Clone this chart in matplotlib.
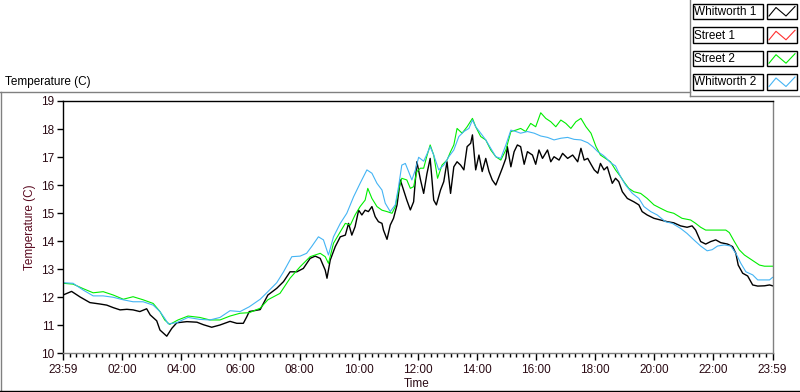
#!/usr/bin/env python3

import matplotlib
matplotlib.use("Agg")
import matplotlib.pyplot as plt
from matplotlib.lines import Line2D
from matplotlib.patches import Rectangle
import numpy as np

W, H = 800, 392

# hours since 23:59 of previous day, temperature in C
whitworth1_t = [0.0, 0.29, 0.58, 0.91, 1.25, 1.48, 1.7, 1.93, 2.16, 2.37, 2.6, 2.83, 2.95,
                3.17, 3.28, 3.51, 3.68, 3.85, 4.19, 4.53, 4.75, 5.03, 5.31, 5.65, 5.88, 6.1,
                6.22, 6.3, 6.67, 6.93, 7.23, 7.46, 7.68, 7.91, 8.13, 8.36, 8.53, 8.7, 8.87,
                8.93, 9.04, 9.21, 9.38, 9.55, 9.66, 9.77, 9.88, 10.0, 10.11, 10.22, 10.33,
                10.45, 10.56, 10.67, 10.79, 10.84, 10.96, 11.07, 11.18, 11.3, 11.41, 11.52,
                11.63, 11.75, 11.86, 11.97, 12.09, 12.2, 12.31, 12.42, 12.54, 12.63, 12.77,
                12.88, 12.99, 13.11, 13.22, 13.33, 13.45, 13.56, 13.67, 13.79, 13.85, 13.96,
                14.07, 14.18, 14.3, 14.41, 14.52, 14.64, 14.75, 14.86, 14.98, 15.03, 15.15,
                15.26, 15.37, 15.48, 15.6, 15.71, 15.88, 15.99, 16.1, 16.22, 16.39, 16.5,
                16.61, 16.78, 16.9, 17.07, 17.24, 17.41, 17.52, 17.63, 17.75, 17.86, 17.97,
                18.09, 18.18, 18.3, 18.41, 18.58, 18.69, 18.8, 18.92, 19.09, 19.31, 19.48,
                19.59, 19.76, 19.99, 20.21, 20.44, 20.66, 20.89, 21.11, 21.28, 21.4, 21.57,
                21.74, 21.91, 22.08, 22.25, 22.48, 22.65, 22.76, 22.84, 22.99, 23.16, 23.33,
                23.5, 23.73, 23.9, 24.0]
whitworth1_v = [12.07, 12.2, 12.0, 11.8, 11.75, 11.71, 11.62, 11.54, 11.56, 11.54, 11.48, 11.58, 11.36,
                11.15, 10.82, 10.6, 10.88, 11.08, 11.12, 11.1, 11.01, 10.92, 11.0, 11.13, 11.06, 11.06,
                11.3, 11.48, 11.55, 12.07, 12.31, 12.55, 12.9, 12.9, 13.02, 13.38, 13.46, 13.38, 12.96,
                12.67, 13.32, 13.8, 14.15, 14.21, 14.63, 14.21, 14.51, 15.1, 14.93, 15.1, 15.05,
                15.23, 14.87, 14.69, 14.63, 14.39, 14.06, 14.57, 14.81, 15.29, 16.18, 15.82,
                15.46, 15.11, 15.4, 16.83, 16.2, 15.7, 16.4, 16.95, 15.46, 15.29, 15.82,
                16.12, 16.83, 15.7, 16.65, 16.83, 16.71, 16.54, 17.37, 17.49, 17.79, 16.54,
                17.07, 16.48, 16.95, 16.48, 16.18, 16.0, 16.3, 16.6, 16.95, 17.37, 16.65,
                17.19, 17.43, 17.37, 16.74, 17.19, 17.07, 16.74, 17.25, 16.95, 17.25, 16.83,
                17.01, 16.89, 17.13, 16.95, 17.07, 16.83, 17.31, 16.89, 16.95, 16.74, 16.54,
                16.42, 16.77, 16.54, 16.65, 16.06, 16.24, 16.12, 15.76, 15.52, 15.4, 15.29,
                15.05, 14.93, 14.81, 14.75, 14.69, 14.65, 14.54, 14.49, 14.54, 14.39, 13.98,
                13.89, 13.98, 14.04, 13.94, 13.89, 13.8, 13.56, 13.14, 12.85, 12.75, 12.43,
                12.39, 12.4, 12.43, 12.4]

street1_t = []
street1_v = []

street2_t = [0.0, 0.34, 0.68, 1.02, 1.36, 1.7, 2.04, 2.37, 2.71, 3.05, 3.28, 3.44, 3.61, 3.89,
             4.23, 4.63, 4.97, 5.31, 5.65, 5.99, 6.3, 6.67, 6.93, 7.34, 7.68, 8.02, 8.36, 8.7,
             8.87, 8.98, 9.15, 9.38, 9.55, 9.72, 9.88, 10.05, 10.22, 10.31, 10.45, 10.62,
             10.79, 10.96, 11.13, 11.24, 11.35, 11.46, 11.63, 11.75, 11.86, 11.97, 12.09,
             12.2, 12.3, 12.42, 12.54, 12.67, 12.82, 12.99, 13.11, 13.22, 13.33, 13.5, 13.67,
             13.85, 13.96, 14.13, 14.3, 14.47, 14.64, 14.81, 14.98, 15.15, 15.32, 15.48,
             15.65, 15.82, 15.99, 16.16, 16.33, 16.5, 16.67, 16.84, 17.01, 17.18, 17.35,
             17.52, 17.69, 17.86, 18.03, 18.18, 18.35, 18.52, 18.69, 18.86, 18.97, 19.14,
             19.31, 19.54, 19.76, 19.99, 20.21, 20.44, 20.66, 20.94, 21.23, 21.4, 21.57,
             21.74, 22.02, 22.42, 22.54, 22.71, 22.88, 23.05, 23.22, 23.39, 23.56, 23.73, 24.0]
street2_v = [12.49, 12.46, 12.3, 12.15, 12.19, 12.07, 11.92, 12.01, 11.9, 11.77, 11.48, 11.18, 11.02, 11.18,
             11.32, 11.27, 11.18, 11.18, 11.32, 11.42, 11.44, 11.6, 11.9, 12.13, 12.67, 13.08, 13.44, 13.56,
             13.44, 13.2, 13.92, 14.33, 14.63, 14.57, 14.93, 15.23, 15.46, 15.88, 15.52, 15.23,
             15.1, 15.05, 14.99, 15.23, 15.82, 16.24, 16.18, 15.88, 15.94, 16.48, 16.6,
             16.6, 17.0, 17.43, 17.07, 16.24, 16.71, 16.89, 17.19, 17.43, 18.02, 17.85, 18.08,
             18.38, 18.08, 17.73, 17.61, 17.25, 17.01, 16.89, 17.25, 17.91, 17.96, 18.02,
             17.91, 18.2, 18.08, 18.58, 18.38, 18.26, 18.08, 18.32, 18.2, 18.02, 18.26,
             18.38, 18.08, 17.85, 17.37, 17.07, 16.95, 16.83, 16.54, 16.3, 16.12, 15.88,
             15.76, 15.7, 15.52, 15.29, 15.17, 15.05, 14.99, 14.81, 14.75, 14.63, 14.49,
             14.39, 14.39, 14.39, 14.3, 13.98, 13.68, 13.5, 13.38, 13.26, 13.14, 13.1, 13.1]

whitworth2_t = [0.0, 0.34, 0.68, 1.02, 1.36, 1.7, 2.04, 2.37, 2.71, 3.05, 3.28, 3.44, 3.56, 3.84,
                4.23, 4.63, 4.97, 5.31, 5.65, 5.99, 6.3, 6.67, 6.93, 7.23, 7.46, 7.74, 8.02, 8.24,
                8.41, 8.64, 8.81, 8.98, 9.15, 9.38, 9.6, 9.83, 10.05, 10.28, 10.45, 10.62, 10.79,
                10.9, 11.07, 11.24, 11.35, 11.46, 11.58, 11.69, 11.8, 11.92, 12.03, 12.2, 12.31,
                12.42, 12.54, 12.71, 12.88, 13.05, 13.22, 13.39, 13.56, 13.73, 13.85, 13.96,
                14.13, 14.3, 14.47, 14.64, 14.81, 14.98, 15.15, 15.32, 15.48, 15.71, 15.94,
                16.16, 16.39, 16.61, 16.84, 17.07, 17.29, 17.52, 17.75, 17.92, 18.09, 18.26,
                18.35, 18.52, 18.69, 18.86, 19.03, 19.26, 19.48, 19.65, 19.88, 20.1, 20.38,
                20.61, 20.89, 21.11, 21.34, 21.57, 21.79, 21.96, 22.14, 22.37, 22.59, 22.76,
                22.93, 23.1, 23.33, 23.5, 23.73, 23.9, 24.0]
whitworth2_v = [12.51, 12.49, 12.25, 12.04, 12.04, 11.99, 11.9, 11.83, 11.83, 11.71, 11.48, 11.24, 11.04, 11.08,
                11.27, 11.2, 11.18, 11.27, 11.51, 11.48, 11.65, 11.92, 12.19, 12.51, 12.9, 13.44, 13.46, 13.56,
                13.8, 14.15, 14.04, 13.5, 14.15, 14.63, 14.99, 15.58, 16.06, 16.54, 16.42, 16.06, 15.82,
                15.35, 15.05, 15.29, 15.94, 16.71, 16.77, 16.48, 16.18, 16.54, 16.99, 16.85, 17.1,
                17.37, 17.07, 16.54, 16.71, 17.01, 17.25, 17.73, 17.91, 18.02, 18.32, 18.08,
                17.85, 17.61, 17.31, 17.01, 16.95, 17.43, 17.96, 17.91, 17.85, 17.91, 17.85,
                17.75, 17.7, 17.61, 17.67, 17.7, 17.63, 17.61, 17.51, 17.37, 17.19, 17.07,
                16.99, 16.8, 16.68, 16.3, 16.0, 15.7, 15.52, 15.23, 15.05, 14.93, 14.69,
                14.63, 14.45, 14.27, 14.04, 13.82, 13.65, 13.69, 13.82, 13.86, 13.82, 13.56,
                13.2, 12.9, 12.79, 12.61, 12.61, 12.61, 12.7]

names = ["Whitworth 1", "Street 1", "Street 2", "Whitworth 2"]
colors = ["#000000", "#ff3030", "#00ee00", "#44b4f4"]
widths = [1.0, 0.8, 0.8, 0.8]
series = [(whitworth1_t, whitworth1_v), (street1_t, street1_v),
          (street2_t, street2_v), (whitworth2_t, whitworth2_v)]

tick_hours = list(range(0, 25, 2))
tick_labels = ["23:59", "02:00", "04:00", "06:00", "08:00", "10:00", "12:00",
               "14:00", "16:00", "18:00", "20:00", "22:00", "23:59"]
y_ticks = list(range(10, 20))

FONT = "Liberation Sans"
TXT = "#2a0a14"


def fx(px):
    return px / W


def fy(py):
    return 1 - py / H


fig = plt.figure(figsize=(W / 100, H / 100), dpi=100)
fig.patch.set_facecolor("white")

ax = fig.add_axes([fx(63), fy(353), (772.5 - 63) / W, (353 - 101) / H])
for (t, v), c, lw in zip(series, colors, widths):
    ax.plot(t, v, color=c, lw=lw)

ax.set_xlim(0, 24)
ax.set_ylim(10, 19)
ax.set_xticks(tick_hours)
ax.set_xticklabels(tick_labels)
minor = []
for a in tick_hours[:-1]:
    minor += list(np.linspace(a, a + 2, 10)[1:-1])
ax.set_xticks(minor, minor=True)
ax.set_yticks(y_ticks)

ax.spines["left"].set_color("black")
ax.spines["top"].set_color("black")
ax.spines["right"].set_color("#808080")
ax.spines["bottom"].set_color("#808080")
for s in ax.spines.values():
    s.set_linewidth(1.0)

ax.tick_params(axis="x", which="major", length=5, width=1, color="black",
               pad=3, labelsize=8.5, labelcolor=TXT)
ax.tick_params(axis="x", which="minor", length=3, width=1, color="black")
ax.tick_params(axis="y", which="major", length=4, width=1, color="black",
               pad=2, labelsize=8.5, labelcolor=TXT)
for lab in ax.get_xticklabels() + ax.get_yticklabels():
    lab.set_fontfamily(FONT)

fig.text(fx(417), fy(384), "Time", ha="center", va="center", fontsize=8.5,
         family=FONT, color=TXT)
fig.text(fx(30), fy(227), "Temperature (C)", ha="center", va="center",
         rotation=90, fontsize=8.5, family=FONT, color="#5a0a20")
fig.text(fx(5), fy(82), "Temperature (C)", ha="left", va="center",
         fontsize=8.5, family=FONT, color="black")

# panel frame
fig.add_artist(Line2D([fx(0), fx(690)], [fy(92), fy(92)], color="#808080", lw=1,
                      transform=fig.transFigure))
fig.add_artist(Line2D([fx(0.5), fx(0.5)], [fy(92), fy(391)], color="#808080", lw=1,
                      transform=fig.transFigure))
fig.add_artist(Line2D([fx(0), fx(800)], [fy(390.5), fy(390.5)], color="black", lw=1,
                      transform=fig.transFigure))

# legend
fig.add_artist(Line2D([fx(689.5), fx(689.5)], [fy(0), fy(95.5)], color="#808080", lw=1,
                      transform=fig.transFigure))
fig.add_artist(Line2D([fx(689.5), fx(800)], [fy(95.5), fy(95.5)], color="#808080", lw=1,
                      transform=fig.transFigure))
row_tops = [3.5, 27.3, 50.7, 74.0]
box_h = 15.5
for top, name, c in zip(row_tops, names, colors):
    fig.add_artist(Rectangle((fx(692.5), fy(top + box_h)), 70 / W, box_h / H,
                             transform=fig.transFigure, fill=False,
                             edgecolor="black", lw=1))
    fig.text(fx(694.5), fy(top + box_h / 2 + 0.5), name, ha="left", va="center",
             fontsize=8.5, family=FONT, color="black")
    fig.add_artist(Rectangle((fx(766.5), fy(top + box_h)), 30.5 / W, box_h / H,
                             transform=fig.transFigure, fill=False,
                             edgecolor="black", lw=1))
    zx = [769, 776, 786, 795]
    zy = [top + 12.5, top + 4, top + 12.5, top + 3]
    fig.add_artist(Line2D([fx(p) for p in zx], [fy(p) for p in zy], color=c, lw=0.8,
                          transform=fig.transFigure))

fig.savefig("out.png", dpi=100, facecolor="white")
